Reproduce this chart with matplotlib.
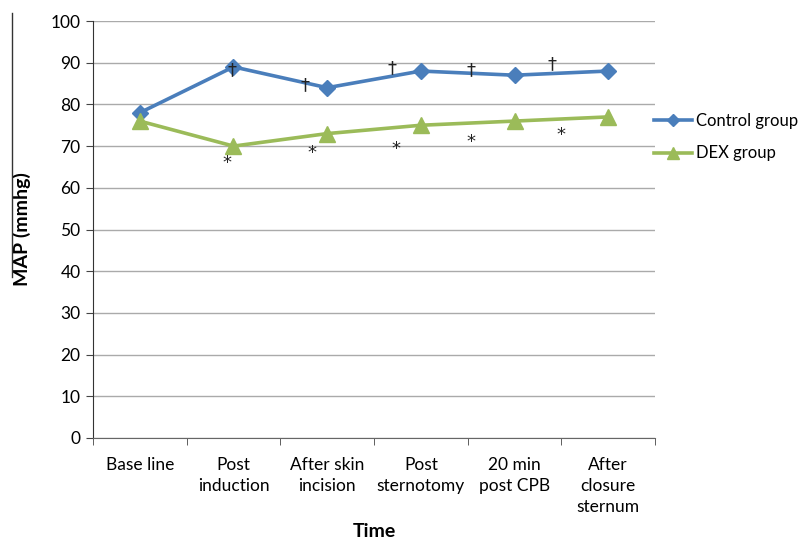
import matplotlib
matplotlib.use("Agg")
import matplotlib.pyplot as plt
from matplotlib.lines import Line2D

plt.rcParams['font.family'] = ['Lato', 'DejaVu Sans']

categories = ["Base line", "Post\ninduction", "After skin\nincision", "Post\nsternotomy",
              "20 min\npost CPB", "After\nclosure\nsternum"]
control = [78, 89, 84, 88, 87, 88]
dex = [76, 70, 73, 75, 76, 77]

# significance markers (x in category units, y in mmHg)
dagger_x = [0.98, 1.76, 2.69, 3.54, 4.40]
dagger_y = [88.2, 84.6, 88.7, 88.2, 89.7]
star_x = [0.93, 1.84, 2.73, 3.54, 4.50]
star_y = [66.0, 68.3, 69.3, 71.0, 72.7]

blue = "#4A7EBB"
green = "#9BBB59"

fig = plt.figure(figsize=(8.08, 5.40), dpi=100)
ax = fig.add_axes([93/808, 1 - 438/540, (655-93)/808, (438-21)/540])

x = list(range(len(categories)))
ax.plot(x, control, color=blue, lw=2.6, marker='D', ms=8, mfc=blue, mec=blue,
        label="Control group", zorder=3)
ax.plot(x, dex, color=green, lw=2.6, marker='^', ms=11, mfc=green, mec=green,
        label="DEX group", zorder=3)

for xx, yy in zip(dagger_x, dagger_y):
    ax.text(xx, yy, "\u2020", ha='center', va='center', fontsize=13, color='#222222',
            family='DejaVu Sans', zorder=4)
for xx, yy in zip(star_x, star_y):
    ax.text(xx, yy, "*", ha='center', va='center', fontsize=13, color='#222222',
            family='DejaVu Sans', zorder=4)

ax.set_xlim(-0.5, len(categories) - 0.5)
ax.set_ylim(0, 100)
ax.set_yticks(range(0, 101, 10))
ax.yaxis.grid(True, color='#AAAAAA', lw=1.0)
ax.set_axisbelow(True)

ax.set_xticks(x)
ax.set_xticklabels(categories, fontsize=12.5, linespacing=1.35)
ax.set_xticks([i - 0.5 for i in range(len(categories) + 1)], minor=True)
ax.tick_params(axis='x', which='major', length=0, pad=14)
ax.tick_params(axis='x', which='minor', length=5, direction='out', color='#444444')
ax.tick_params(axis='y', length=5, direction='out', labelsize=12.5, pad=4, color='#444444')

for s in ['top', 'right']:
    ax.spines[s].set_visible(False)
ax.spines['left'].set_color('#333333')
ax.spines['bottom'].set_color('#666666')

ax.set_ylabel("MAP (mmhg)", fontsize=14, fontweight='bold', labelpad=14)
ax.set_xlabel("Time", fontsize=14, fontweight='bold', labelpad=6)

ax.legend(loc='center left', bbox_to_anchor=(654/808, 1 - 137/540),
          bbox_transform=fig.transFigure, frameon=False, fontsize=12,
          borderpad=0, borderaxespad=0,
          handlelength=2.3, handletextpad=0.2, labelspacing=1.0, markerscale=0.8)

fig.add_artist(Line2D([12/808, 12/808], [1 - 13/540, 1 - 277/540],
                      transform=fig.transFigure, color='#333333', lw=1.0))

fig.savefig("out.png", dpi=100)
